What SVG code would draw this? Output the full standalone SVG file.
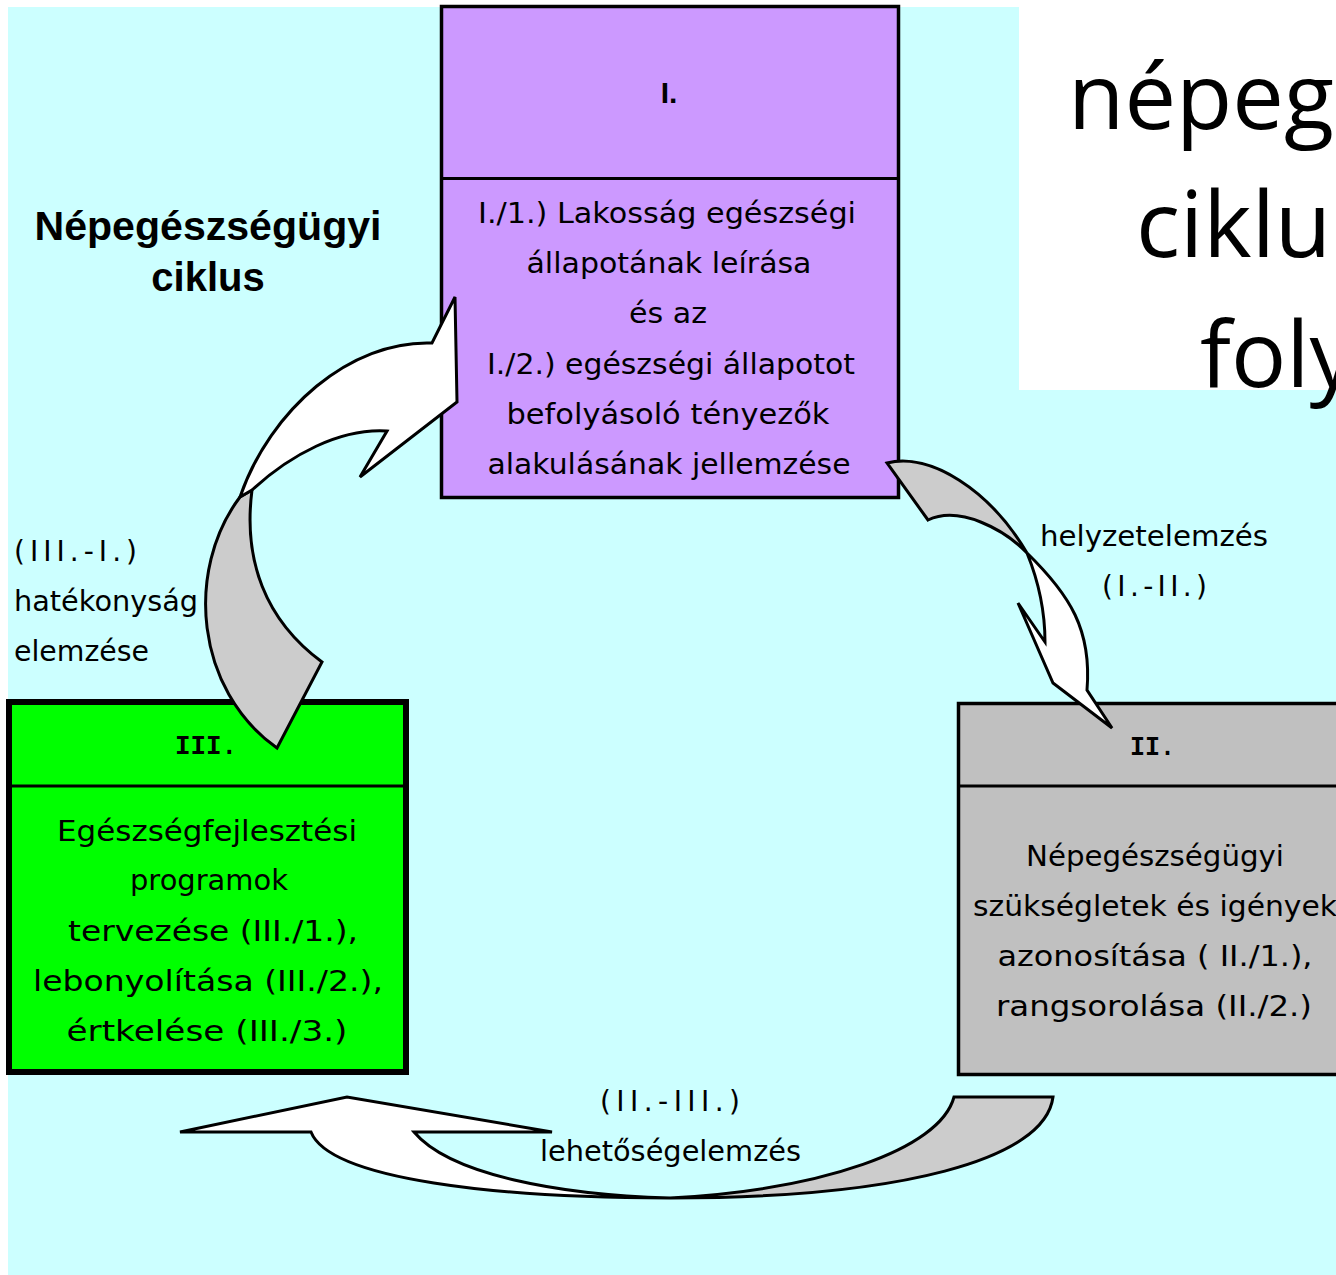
<svg xmlns="http://www.w3.org/2000/svg" width="1336" height="1275" viewBox="0 0 1336 1275">
<style>
.bg{fill:#CCFFFF}
.box{stroke:#000;stroke-width:3.5}
.div{stroke:#000;stroke-width:3}
.c{font-family:"DejaVu Sans","Liberation Sans",sans-serif;font-size:28px;fill:#000}
.m{text-anchor:middle}
.hb{font-family:"Liberation Sans",Arial,sans-serif;font-weight:bold;fill:#000}
.hm{font-family:"Liberation Mono","Courier New",monospace;font-weight:bold;font-size:28px;fill:#000}
.title{font-family:"Open Sans","Noto Sans",sans-serif;font-size:92px;fill:#000}
.aw{fill:#FFFFFF;stroke:#000;stroke-width:3;stroke-linejoin:miter}
.ag{fill:#CCCCCC;stroke:#000;stroke-width:3;stroke-linejoin:miter}
</style>
<rect x="0" y="0" width="1336" height="1275" fill="#FFFFFF"/>
<rect class="bg" x="8" y="7" width="1328" height="1268"/>
<rect x="1019" y="0" width="317" height="390" fill="#FFFFFF"/>
<g id="title">
<text class="title" x="1068" y="129">népeg</text>
<text class="title" x="1136" y="257">ciklu</text>
<text class="title" x="1200" y="387">foly</text>
</g>
<g id="label-cycle">
<text class="hb m" x="208" y="240" font-size="40" textLength="347" lengthAdjust="spacingAndGlyphs">Népegészségügyi</text>
<text class="hb m" x="208" y="291" font-size="40">ciklus</text>
</g>
<g id="node-I">
<rect class="box" x="441.5" y="6.5" width="457" height="491" fill="#CC99FF"/>
<line class="div" x1="441.5" y1="178.5" x2="898.5" y2="178.5"/>
<text class="hb m" x="669" y="103" font-size="30">I.</text>
<text class="c m" x="667" y="223" textLength="378" lengthAdjust="spacingAndGlyphs">I./1.) Lakosság egészségi</text>
<text class="c m" x="669" y="273" textLength="285" lengthAdjust="spacingAndGlyphs">állapotának leírása</text>
<text class="c m" x="668" y="323" textLength="78" lengthAdjust="spacingAndGlyphs">és az</text>
<text class="c m" x="671" y="374" textLength="368" lengthAdjust="spacingAndGlyphs">I./2.) egészségi állapotot</text>
<text class="c m" x="668" y="424" textLength="323" lengthAdjust="spacingAndGlyphs">befolyásoló tényezők</text>
<text class="c m" x="669" y="474" textLength="363" lengthAdjust="spacingAndGlyphs">alakulásának jellemzése</text>
</g>
<g id="node-II">
<rect class="box" x="958.5" y="703.5" width="390" height="371" fill="#C0C0C0"/>
<line class="div" x1="958.5" y1="786" x2="1336" y2="786"/>
<text class="hm" x="1130" y="755" textLength="45" lengthAdjust="spacingAndGlyphs">II.</text>
<text class="c m" x="1155" y="866" textLength="258" lengthAdjust="spacingAndGlyphs">Népegészségügyi</text>
<text class="c m" x="1155" y="916" textLength="364" lengthAdjust="spacingAndGlyphs">szükségletek és igények</text>
<text class="c m" x="1155" y="966" textLength="315" lengthAdjust="spacingAndGlyphs">azonosítása ( II./1.),</text>
<text class="c m" x="1154" y="1016" textLength="316" lengthAdjust="spacingAndGlyphs">rangsorolása (II./2.)</text>
</g>
<g id="node-III">
<rect x="9" y="702" width="397" height="370" fill="#00FF00" stroke="#000" stroke-width="6"/>
<line class="div" x1="9" y1="786" x2="406" y2="786"/>
<text class="hm" x="175" y="754" textLength="62" lengthAdjust="spacingAndGlyphs">III.</text>
<text class="c m" x="207" y="841" textLength="300" lengthAdjust="spacingAndGlyphs">Egészségfejlesztési</text>
<text class="c m" x="209" y="890" textLength="158" lengthAdjust="spacingAndGlyphs">programok</text>
<text class="c m" x="213" y="941" textLength="290" lengthAdjust="spacingAndGlyphs">tervezése (III./1.),</text>
<text class="c m" x="208" y="991" textLength="350" lengthAdjust="spacingAndGlyphs">lebonyolítása (III./2.),</text>
<text class="c m" x="207" y="1041" textLength="281" lengthAdjust="spacingAndGlyphs">értkelése (III./3.)</text>
</g>
<g id="connectors">
<g id="arrow-III-I">
<path class="ag" d="M240,497 C185,570 195,690 277,748 L322,662 C265,620 243,560 252,490 Z"/>
<path class="aw" d="M455,297 L457,402 L360,477 L387,431 C340,428 290,455 252,490 L240,497 C270,410 350,340 432,343 Z"/>
</g>
<g id="arrow-I-II">
<path class="ag" d="M887,463 C930,452 990,490 1027,553 C1005,530 960,505 928,520 Z"/>
<path class="aw" d="M1027,553 C1070,595 1092,630 1087,690 L1112,728 L1053,683 L1018,603 L1045,642 C1045,615 1040,585 1027,553 Z"/>
</g>
<g id="arrow-II-III">
<path class="ag" d="M954,1097 L1053,1097 C1045,1160 900,1198 670,1198 C820,1190 940,1150 954,1097 Z"/>
<path class="aw" d="M670,1198 C500,1198 330,1180 311,1132 L180,1132 L347,1097 L552,1132 L414,1132 C450,1175 560,1195 670,1198 Z"/>
</g>
<g id="edge-labels">
<text class="c" x="14" y="561" textLength="123" lengthAdjust="spacing">(III.-I.)</text>
<text class="c" x="14" y="611" textLength="184" lengthAdjust="spacingAndGlyphs">hatékonyság</text>
<text class="c" x="14" y="661" textLength="135" lengthAdjust="spacingAndGlyphs">elemzése</text>
<text class="c" x="1040" y="546" textLength="228" lengthAdjust="spacingAndGlyphs">helyzetelemzés</text>
<text class="c" x="1102" y="596" textLength="105" lengthAdjust="spacing">(I.-II.)</text>
<text class="c" x="600" y="1111" textLength="140" lengthAdjust="spacing">(II.-III.)</text>
<text class="c" x="540" y="1161" textLength="261" lengthAdjust="spacingAndGlyphs">lehetőségelemzés</text>
</g>
</g>
</svg>
